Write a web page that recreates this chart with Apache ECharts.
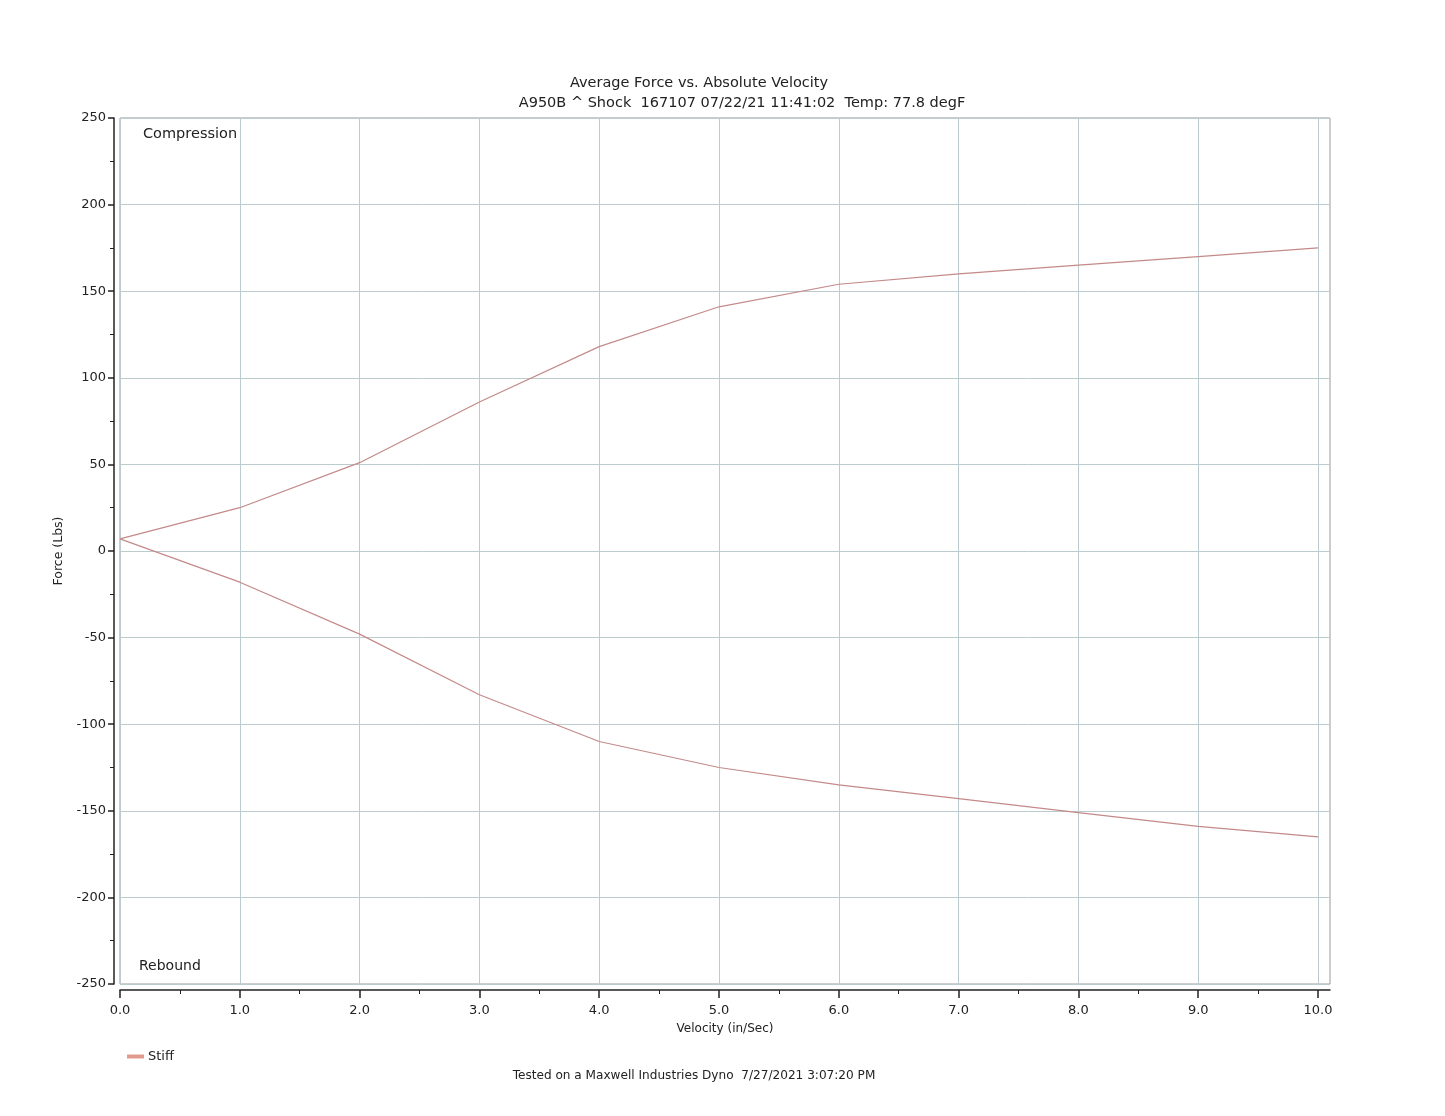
<!DOCTYPE html>
<html><head><meta charset="utf-8">
<script src="https://cdn.jsdelivr.net/npm/echarts@6/dist/echarts.min.js"></script>
<style>html,body{margin:0;padding:0;background:#fff}#c{width:1445px;height:1116px}</style>
</head><body><div id="c"></div>
<script>
const velocity = [0, 1, 2, 3, 4, 5, 6, 7, 8, 9, 10];
const compression = [7, 25, 51, 86, 118, 141, 154, 160, 165, 170, 175];
const rebound = [7, -18, -48, -83, -110, -125, -135, -143, -151, -159, -165];
const xTicks = [0, 1, 2, 3, 4, 5, 6, 7, 8, 9, 10];
const seriesName = 'Stiff';

const pts = [];
for (let i = velocity.length - 1; i >= 0; i--) pts.push([velocity[i], compression[i]]);
for (let i = 1; i < velocity.length; i++) pts.push([velocity[i], rebound[i]]);

const font = 'DejaVu Sans';
const chart = echarts.init(document.getElementById('c'), null, {renderer: 'canvas'});
chart.setOption({
  backgroundColor: '#fff',
  animation: false,
  textStyle: {fontFamily: font},
  grid: {left: 120, right: 115, top: 118, bottom: 132, show: true, borderColor: '#9a9a9a', borderWidth: 1},
  xAxis: {
    type: 'value', min: 0, max: 10.1, interval: 1,
    offset: 6,
    axisLine: {show: true, onZero: false, lineStyle: {color: '#222', width: 1.5}},
    axisTick: {show: true, length: 8, customValues: xTicks, lineStyle: {color: '#222', width: 1.5}},
    minorTick: {show: true, splitNumber: 2, length: 4, lineStyle: {color: '#222'}},
    axisLabel: {customValues: xTicks, color: '#222', fontSize: 13, margin: 14, formatter: v => v.toFixed(1)},
    splitLine: {show: true, lineStyle: {color: '#bccbce', width: 1}},
    name: 'Velocity (in/Sec)', nameLocation: 'middle', nameGap: 33,
    nameTextStyle: {color: '#222', fontSize: 12, fontFamily: font}
  },
  yAxis: {
    type: 'value', min: -250, max: 250, interval: 50,
    offset: 6,
    axisLine: {show: true, onZero: false, lineStyle: {color: '#222', width: 1.5}},
    axisTick: {show: true, length: 6, lineStyle: {color: '#222', width: 1.5}},
    minorTick: {show: true, splitNumber: 2, length: 4, lineStyle: {color: '#222'}},
    axisLabel: {color: '#222', fontSize: 13, margin: 8},
    splitLine: {show: true, lineStyle: {color: '#bccbce', width: 1}},
    name: 'Force (Lbs)', nameLocation: 'middle', nameGap: 49, nameRotate: 90,
    nameTextStyle: {color: '#222', fontSize: 12.5, fontFamily: font}
  },
  legend: {
    show: true, left: 122, top: 1045, itemWidth: 17, itemHeight: 4, itemGap: 10,
    icon: 'rect',
    textStyle: {color: '#222', fontSize: 13, fontFamily: font, padding: [0, 0, 0, -1]},
    data: [seriesName]
  },
  series: [{
    name: seriesName, type: 'line', data: pts, showSymbol: false, symbol: 'none',
    lineStyle: {color: '#c48a8a', width: 1.2}, itemStyle: {color: '#e39a8e'}
  }],
  graphic: [
    {type: 'text', style: {text: 'Average Force vs. Absolute Velocity', x: 699, y: 83, textAlign: 'center', textVerticalAlign: 'middle', fontSize: 14.5, fontFamily: font, fill: '#222'}},
    {type: 'text', style: {text: 'A950B ^ Shock  167107 07/22/21 11:41:02  Temp: 77.8 degF', x: 742, y: 103, textAlign: 'center', textVerticalAlign: 'middle', fontSize: 14.5, fontFamily: font, fill: '#222'}},
    {type: 'text', style: {text: 'Compression', x: 143, y: 134, textVerticalAlign: 'middle', fontSize: 14.5, fontFamily: font, fill: '#222'}},
    {type: 'text', style: {text: 'Rebound', x: 139, y: 966, textVerticalAlign: 'middle', fontSize: 14, fontFamily: font, fill: '#222'}},
    {type: 'text', style: {text: 'Tested on a Maxwell Industries Dyno  7/27/2021 3:07:20 PM', x: 694, y: 1076, textAlign: 'center', textVerticalAlign: 'middle', fontSize: 12.1, fontFamily: font, fill: '#222'}}
  ]
});
</script></body></html>
